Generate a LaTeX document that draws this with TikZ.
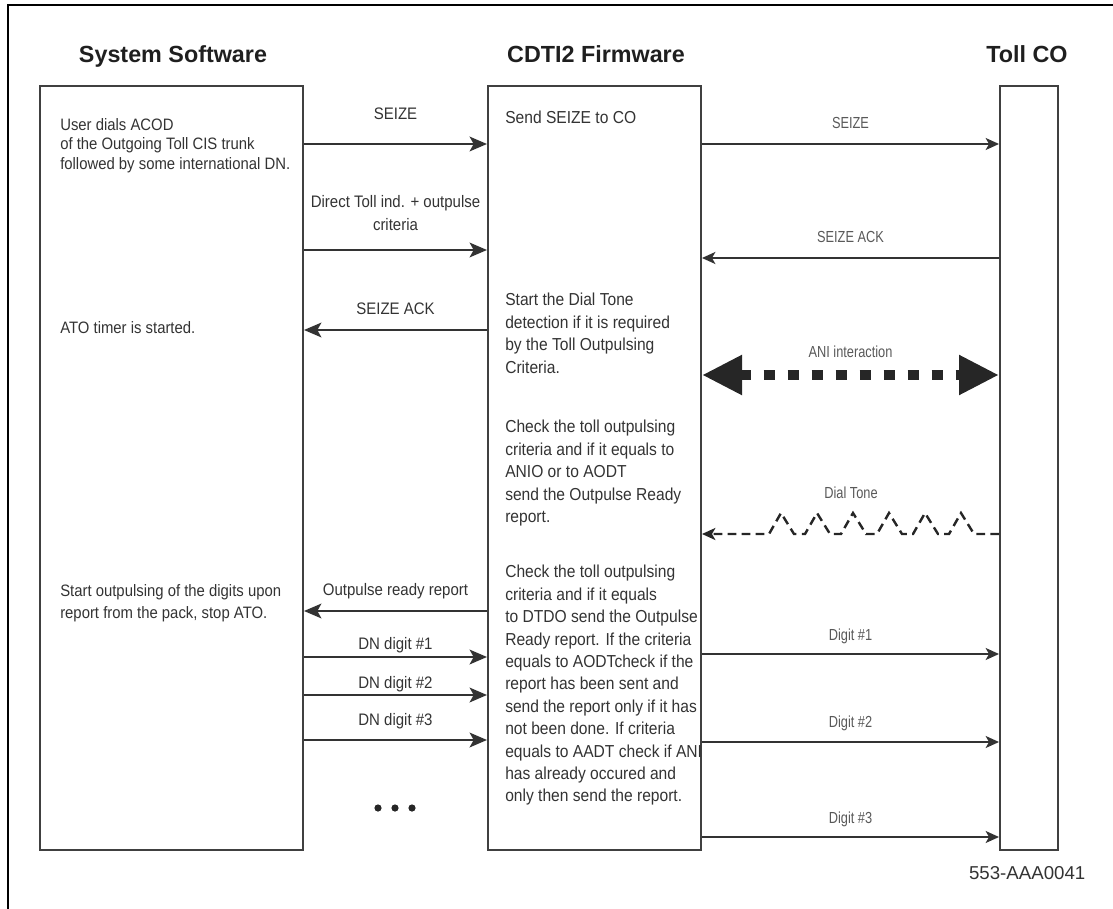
\documentclass[tikz,border=0pt]{standalone}
\usepackage{fontspec}
\setmainfont{Liberation Sans}
\newfontfamily\narrowfont[FakeStretch=0.9]{Liberation Sans}
\newfontfamily\slimfont[FakeStretch=0.8]{Liberation Sans}
\usetikzlibrary{positioning, arrows.meta, calc}

\begin{document}
\begin{tikzpicture}[
    x=0.75pt, y=-0.75pt,
    every node/.style={font=\narrowfont},
    lane/.style={
        rectangle,
        draw=black!75,
        line width=1.5pt,
        inner sep=0pt,
        minimum height=572.25pt
    },
    head/.style={font=\bfseries\fontsize{17.5}{20}\selectfont, text=black!88, anchor=base},
    msg/.style={-{Stealth[length=13pt,width=11pt,inset=3pt]}, line width=1.8pt, draw=black!80},
    reply/.style={-{Stealth[length=10pt,width=9pt,inset=2.5pt]}, line width=1.4pt, draw=black!80},
    ani/.style={{Triangle[length=30pt,width=28pt]}-{Triangle[length=30pt,width=28pt]},
        line width=7.5pt, dash pattern=on 8.5pt off 9.5pt, draw=black!85},
    tone/.style={-{Stealth[length=10pt,width=9pt,inset=2.5pt]}, line width=1.8pt,
        dash pattern=on 6.5pt off 4pt, draw=black!85, line join=miter},
    lbl/.style={font=\narrowfont\fontsize{12.5}{17}\selectfont, text=black!80, align=center},
    rlbl/.style={font=\slimfont\fontsize{12}{14}\selectfont, text=black!65},
    note/.style={font=\narrowfont\fontsize{12.4}{14.6}\selectfont, text=black!80,
        align=left, anchor=north west, inner sep=0pt},
    fwnote/.style={note, font=\narrowfont\fontsize{13}{16.8}\selectfont}
]
\useasboundingbox (0,0) rectangle (1113,909);

% outer frame (only top and left edges show)
\draw[line width=2.2pt] (8,909) |- (1113,5);

% the three lanes
\node[lane, minimum width=197.25pt] (sys) at (171.5,468) {};
\node[lane, minimum width=159.75pt] (fw) at (594.5,468) {};
\node[lane, minimum width=43.5pt] (tc) at (1029,468) {};

\node[head] (hsys) at (173,63) {System Software};
\node[head] (hfw) at (596,63) {CDTI2 Firmware};
\node[head] (htc) at (1027,63) {Toll CO};

% system software notes
\node[note] (dial) at (60,118) {User dials ACOD\\of the Outgoing Toll CIS trunk\\followed by some international DN.};
\node[note] (ato) at (60,321) {ATO timer is started.};
\node[note, font=\narrowfont\fontsize{12.4}{17}\selectfont] (start) at (60,584) {Start outpulsing of the digits upon\\report from the pack, stop ATO.};

% firmware notes
\node[fwnote] (send) at (505,111) {Send SEIZE to CO};
\node[fwnote] (dtd) at (505,293) {Start the Dial Tone\\detection if it is required\\by the Toll Outpulsing\\Criteria.};
\node[fwnote] (chk1) at (505,420) {Check the toll outpulsing\\criteria and if it equals to\\ANIO or to AODT\\send the Outpulse Ready\\report.};
\node[fwnote] (chk2) at (505,565) {Check the toll outpulsing\\criteria and if it equals\\to DTDO send the Outpulse\\Ready report. If the criteria\\equals to AODTcheck if the\\report has been sent and\\send the report only if it has\\not been done. If criteria\\equals to AADT check if ANI\\has already occured and\\only then send the report.};

% system software <-> firmware
\draw[msg] (sys.east |- 0,144) -- node[above=14pt, lbl] {SEIZE} (fw.west |- 0,144);
\draw[msg] (sys.east |- 0,250) -- node[above=10.5pt, lbl] {Direct Toll ind. + outpulse\\criteria} (fw.west |- 0,250);
\draw[msg] (fw.west |- 0,330) -- node[above=7.5pt, lbl] {SEIZE ACK} (sys.east |- 0,330);
\draw[msg] (fw.west |- 0,611) -- node[above=4.5pt, lbl] {Outpulse ready report} (sys.east |- 0,611);
\draw[msg] (sys.east |- 0,657) -- node[above=-1.25pt, lbl] {DN digit \#1} (fw.west |- 0,657);
\draw[msg] (sys.east |- 0,695) -- node[above=-2pt, lbl] {DN digit \#2} (fw.west |- 0,695);
\draw[msg] (sys.east |- 0,740) -- node[above=4.25pt, lbl] {DN digit \#3} (fw.west |- 0,740);

\coordinate (more) at (395,808);
\foreach \dx in {-17,0,17}
    \fill[black!85] ($(more)+(\dx,0)$) circle (2.7pt);

% firmware <-> toll CO
\draw[reply] (fw.east |- 0,144) -- node[above=7.25pt, rlbl] {SEIZE} (tc.west |- 0,144);
\draw[reply] (tc.west |- 0,258) -- node[above=7.5pt, rlbl] {SEIZE ACK} (fw.east |- 0,258);
\draw[ani] (fw.east |- 0,375) -- node[above=6.25pt, rlbl] {ANI interaction} (tc.west |- 0,375);
\draw[tone] (tc.west |- 0,534) -- ++(-25,0)
    \foreach \i in {1,...,6} { -- ++(-13,-21) -- ++(-12,21) -- ++(-11,0) }
    -- (fw.east |- 0,534);
\node[rlbl] (dtl) at (851,493) {Dial Tone};
\draw[reply] (fw.east |- 0,654) -- node[above=3.75pt, rlbl] {Digit \#1} (tc.west |- 0,654);
\draw[reply] (fw.east |- 0,742) -- node[above=4.25pt, rlbl] {Digit \#2} (tc.west |- 0,742);
\draw[reply] (fw.east |- 0,837) -- node[above=3.75pt, rlbl] {Digit \#3} (tc.west |- 0,837);

\node[anchor=east, font=\rmfamily\fontsize{14}{16}\selectfont, text=black!80] (code) at (1090,873) {553-AAA0041};

\end{tikzpicture}
\end{document}
